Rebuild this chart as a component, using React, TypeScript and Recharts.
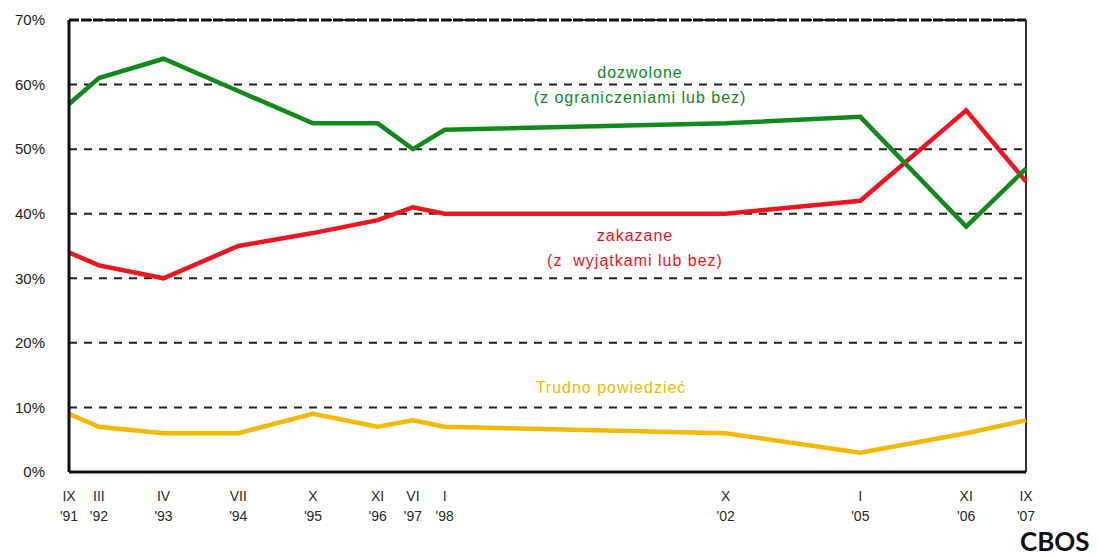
import React from "react";
import {
  LineChart,
  Line,
  XAxis,
  YAxis,
  CartesianGrid,
  ReferenceLine,
} from "recharts";

// survey dates (month as roman numeral, year) and their position on the time axis
const miesiace = ["IX", "III", "IV", "VII", "X", "XI", "VI", "I", "X", "I", "XI", "IX"];
const lata = ["'91", "'92", "'93", "'94", "'95", "'96", "'97", "'98", "'02", "'05", "'06", "'07"];
const czas = [
  1991.67, 1992.17, 1993.25, 1994.5, 1995.75, 1996.83, 1997.42, 1997.95, 2002.65,
  2004.9, 2006.67, 2007.67,
];

const dozwolone = [57, 61, 64, 59, 54, 54, 50, 53, 54, 55, 38, 47];
const zakazane = [34, 32, 30, 35, 37, 39, 41, 40, 40, 42, 56, 45];
const trudno = [9, 7, 6, 6, 9, 7, 8, 7, 6, 3, 6, 8];

const yTicks = [0, 10, 20, 30, 40, 50, 60, 70];

const data = czas.map((t, i) => ({
  t,
  dozwolone: dozwolone[i],
  zakazane: zakazane[i],
  trudno: trudno[i],
}));

const GREEN = "#118a1c";
const RED = "#ec1520";
const YELLOW = "#f6b800";
const FONT = "'Liberation Sans', Arial, sans-serif";

function DateTick(props: any) {
  const { x, y, payload } = props;
  const i = czas.indexOf(payload.value);
  if (i < 0) return null;
  return (
    <g>
      <text x={x} y={y + 29} textAnchor="middle" fontSize={14} fill="#2a2a2a" fontFamily={FONT}>
        {miesiace[i]}
      </text>
      <text x={x} y={y + 49} textAnchor="middle" fontSize={14} fill="#2a2a2a" fontFamily={FONT}>
        {lata[i]}
      </text>
    </g>
  );
}

const note: React.CSSProperties = {
  position: "absolute",
  fontFamily: FONT,
  fontSize: 16,
  letterSpacing: 1,
  whiteSpace: "nowrap",
  transform: "translateX(-50%)",
  lineHeight: "25px",
  textAlign: "center",
};

export default function App() {
  return (
    <div style={{ position: "absolute", left: 0, top: 0, width: 1098, height: 557, background: "#fff" }}>
      <LineChart
        width={1098}
        height={557}
        data={data}
        margin={{ top: 20, right: 72, bottom: 35, left: 0 }}
      >
        <CartesianGrid
          horizontal
          vertical={false}
          stroke="#222"
          strokeWidth={2}
          strokeDasharray="8 7"
        />
        <XAxis
          dataKey="t"
          type="number"
          domain={[czas[0], czas[czas.length - 1]]}
          ticks={czas}
          interval={0}
          tick={<DateTick />}
          tickLine={false}
          tickSize={0}
          tickMargin={0}
          height={50}
          axisLine={{ stroke: "#111", strokeWidth: 3 }}
        />
        <YAxis
          domain={[0, 70]}
          ticks={yTicks}
          width={69}
          tickLine={false}
          tickSize={0}
          tickMargin={24}
          tickFormatter={(v: number) => `${v}%`}
          tick={{ fontSize: 15, fill: "#222", fontFamily: FONT }}
          axisLine={{ stroke: "#111", strokeWidth: 3 }}
        />
        <ReferenceLine y={70} stroke="#111" strokeWidth={3} strokeDasharray="10 2" />
        <ReferenceLine x={czas[czas.length - 1]} stroke="#333" strokeWidth={2} />
        <Line
          type="linear"
          dataKey="trudno"
          stroke={YELLOW}
          strokeWidth={4.5}
          dot={false}
          isAnimationActive={false}
        />
        <Line
          type="linear"
          dataKey="zakazane"
          stroke={RED}
          strokeWidth={4.5}
          dot={false}
          isAnimationActive={false}
        />
        <Line
          type="linear"
          dataKey="dozwolone"
          stroke={GREEN}
          strokeWidth={4.5}
          dot={false}
          isAnimationActive={false}
        />
      </LineChart>

      <div style={{ ...note, left: 640, top: 60, color: GREEN }}>
        dozwolone
        <br />
        (z ograniczeniami lub bez)
      </div>
      <div style={{ ...note, left: 635, top: 223, color: RED }}>
        zakazane
        <br />
        (z&nbsp; wyjątkami lub bez)
      </div>
      <div style={{ ...note, left: 611, top: 375, color: YELLOW }}>Trudno powiedzieć</div>
      <div
        style={{
          position: "absolute",
          left: 1020,
          top: 526,
          fontFamily: "Lato, sans-serif",
          fontWeight: 700,
          fontSize: 26,
          color: "#111",
          lineHeight: "30px",
        }}
      >
        CBOS
      </div>
    </div>
  );
}
